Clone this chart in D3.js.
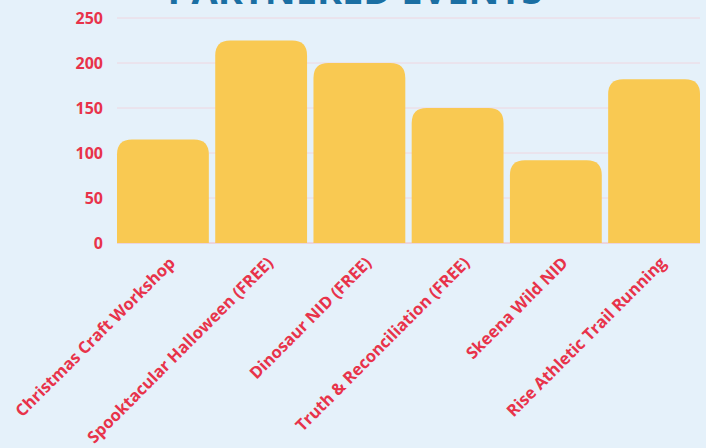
<!DOCTYPE html>
<html>
<head>
<meta charset="utf-8">
<script src="https://cdn.jsdelivr.net/npm/d3@7"></script>
<style>
  html, body { margin: 0; padding: 0; background: #e5f1fa; }
  svg { display: block; }
  text { font-family: "Open Sans", sans-serif; font-weight: 700; }
</style>
</head>
<body>
<svg id="chart" width="706" height="448"></svg>
<script>
const categories = [
  "Christmas Craft Workshop",
  "Spooktacular Halloween (FREE)",
  "Dinosaur NID (FREE)",
  "Truth & Reconciliation (FREE)",
  "Skeena Wild NID",
  "Rise Athletic Trail Running"
];
const values = [115, 225, 200, 150, 92, 182];
const yTicks = [0, 50, 100, 150, 200, 250];
const title = "PARTNERED EVENTS";

const W = 706, H = 448;
const margin = { left: 117, right: 6, top: 18, bottom: 205 };
const svg = d3.select("#chart");

const x = d3.scaleBand().domain(categories)
  .range([margin.left, W - margin.right])
  .paddingInner(0.065).paddingOuter(0);
const y = d3.scaleLinear().domain([0, 250]).range([H - margin.bottom, margin.top]);

// title (cut off at top, as in the reference)
svg.append("text")
  .attr("x", 355).attr("y", 4)
  .attr("text-anchor", "middle")
  .attr("fill", "#1b6fa3")
  .style("font-size", "38px")
  .style("font-weight", 700)
  .text(title);

// gridlines
svg.append("g").selectAll("line").data(yTicks).join("line")
  .attr("x1", margin.left).attr("x2", W - margin.right)
  .attr("y1", d => y(d)).attr("y2", d => y(d))
  .attr("stroke", d => d === 0 ? "#f2b8c0" : "#efd6e0")
  .attr("stroke-width", 1);

// y axis labels
const yAxis = d3.axisLeft(y).tickValues(yTicks).tickSize(0).tickPadding(14);
const gy = svg.append("g").attr("transform", `translate(${margin.left},0)`).call(yAxis);
gy.select(".domain").remove();
gy.selectAll("text")
  .attr("fill", "#e8334a")
  .style("font-size", "16px")
  .style("font-family", "'Open Sans', sans-serif")
  .style("font-weight", 700);

// bars with rounded top corners
const r = 15;
function barPath(d, i) {
  const x0 = x(categories[i]), w = x.bandwidth();
  const y0 = y(d), yb = y(0);
  const rr = Math.min(r, (yb - y0), w / 2);
  return `M${x0},${yb} L${x0},${y0 + rr} Q${x0},${y0} ${x0 + rr},${y0} L${x0 + w - rr},${y0} Q${x0 + w},${y0} ${x0 + w},${y0 + rr} L${x0 + w},${yb} Z`;
}
svg.append("g").selectAll("path").data(values).join("path")
  .attr("d", barPath)
  .attr("fill", "#f9c952");

// x labels
const xl = svg.append("g");
categories.forEach(c => {
  const cx = x(c) + x.bandwidth() / 2 + 9;
  xl.append("text")
    .attr("transform", `translate(${cx},${y(0) + 17}) rotate(-45)`)
    .attr("text-anchor", "end")
    .attr("dy", "0.35em")
    .attr("fill", "#e8334a")
    .style("font-size", "16.5px")
    .text(c);
});
</script>
</body>
</html>
